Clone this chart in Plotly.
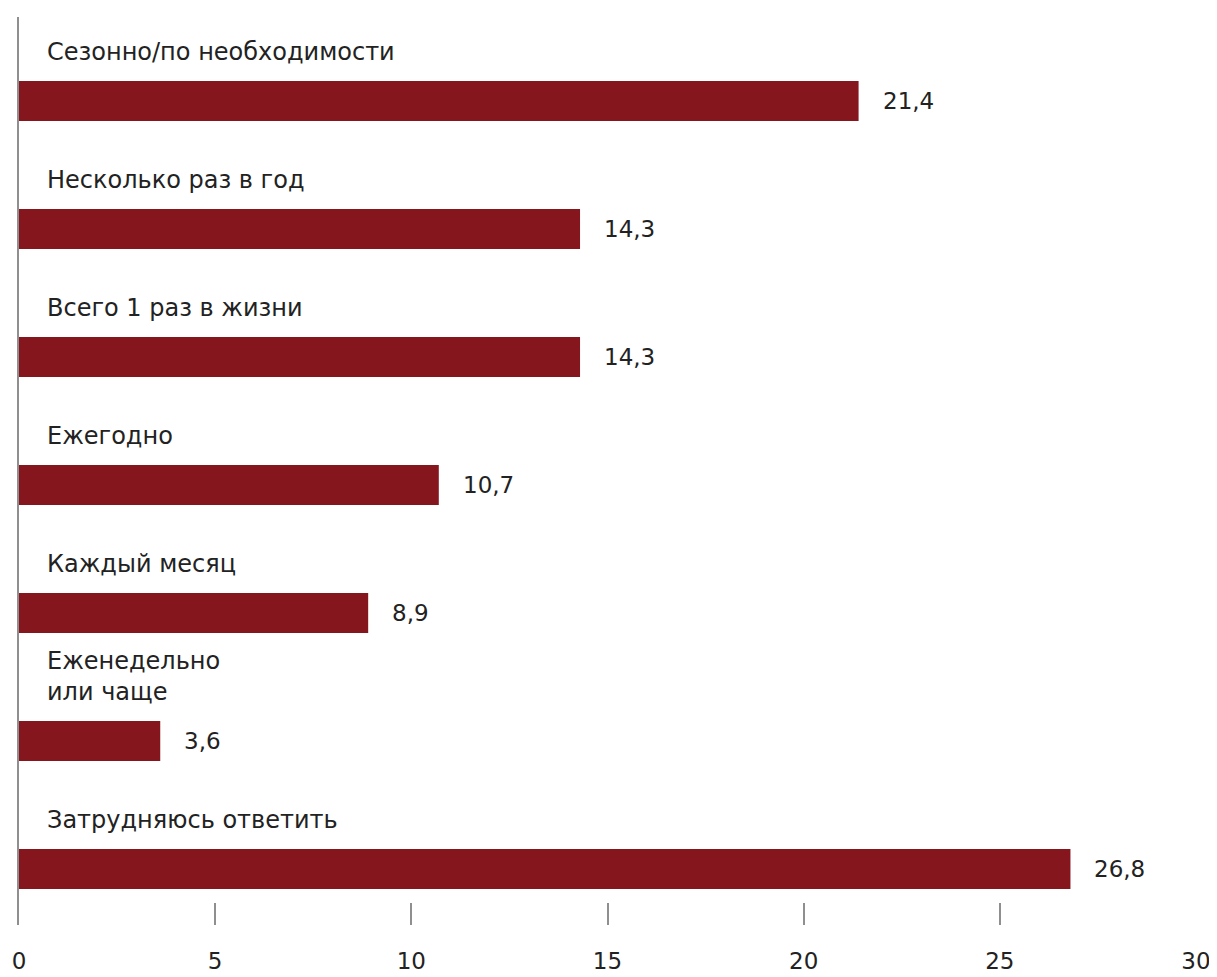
import plotly.graph_objects as go

categories = [
    "Сезонно/по необходимости",
    "Несколько раз в год",
    "Всего 1 раз в жизни",
    "Ежегодно",
    "Каждый месяц",
    "Еженедельно<br>или чаще",
    "Затрудняюсь ответить",
]
values = [21.4, 14.3, 14.3, 10.7, 8.9, 3.6, 26.8]
value_labels = ["21,4", "14,3", "14,3", "10,7", "8,9", "3,6", "26,8"]
x_ticks = [0, 5, 10, 15, 20, 25, 30]

BAR_COLOR = "#86161E"
TEXT_COLOR = "#222222"
FONT = "DejaVu Sans, Noto Sans, sans-serif"
FS_CAT = 24
FS = 23

positions = list(range(len(categories)))

fig = go.Figure()
fig.add_trace(go.Bar(
    x=values,
    y=positions,
    orientation="h",
    marker=dict(color=BAR_COLOR, line=dict(width=0)),
    width=0.3125,
    hoverinfo="skip",
))

annotations = []
for p, cat, v, lab in zip(positions, categories, values, value_labels):
    annotations.append(dict(
        x=0, y=p, xref="x", yref="y", text=cat, showarrow=False,
        xanchor="left", yanchor="bottom", xshift=26, yshift=33,
        align="left",
        font=dict(size=FS_CAT, color=TEXT_COLOR, family=FONT),
    ))
    annotations.append(dict(
        x=v, y=p, xref="x", yref="y", text=lab, showarrow=False,
        xanchor="left", yanchor="middle", xshift=22,
        font=dict(size=FS, color=TEXT_COLOR, family=FONT),
    ))

fig.update_layout(
    width=1209, height=969,
    margin=dict(l=11, r=21, t=9, b=52, autoexpand=False),
    paper_bgcolor="white", plot_bgcolor="white",
    showlegend=False,
    annotations=annotations,
    font=dict(family=FONT, size=FS, color=TEXT_COLOR),
    xaxis=dict(
        range=[0, 30], tickvals=x_ticks, ticktext=[str(t) for t in x_ticks],
        showgrid=False, zeroline=False, showline=False,
        ticks="inside", ticklen=22, tickwidth=2, tickcolor="#8f8f8f",
        ticklabelstandoff=20, automargin=False,
        tickfont=dict(size=FS, color=TEXT_COLOR, family=FONT),
        fixedrange=True,
    ),
    yaxis=dict(
        range=[6.4375, -0.65625], showticklabels=False, showgrid=False,
        zeroline=False, showline=True, linecolor="#8f8f8f", linewidth=2,
        ticks="", fixedrange=True, automargin=False,
    ),
)

fig.write_html("out.html")
